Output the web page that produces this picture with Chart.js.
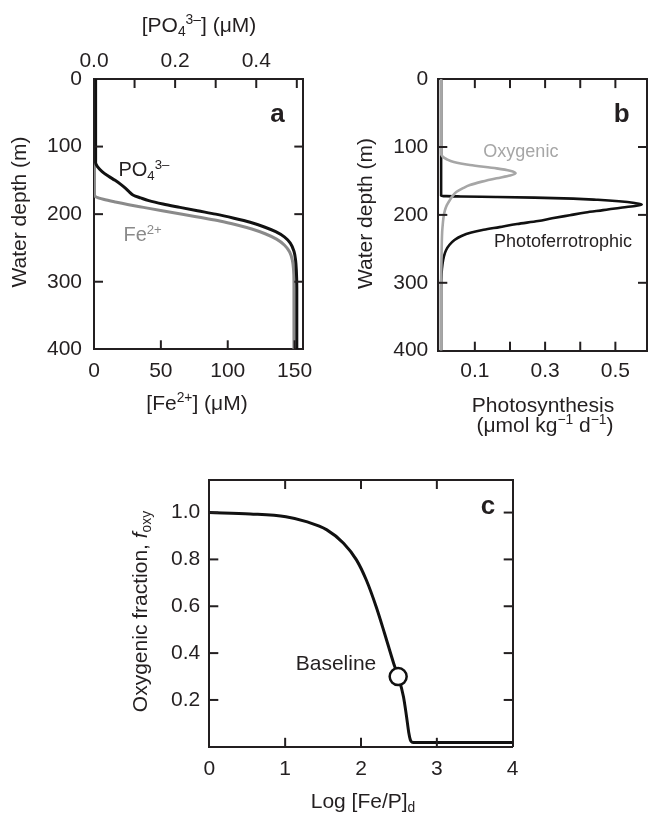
<!DOCTYPE html>
<html>
<head>
<meta charset="utf-8">
<script src="https://cdn.jsdelivr.net/npm/chart.js@4.4.1/dist/chart.umd.min.js"></script>
<style>
  body { margin: 0; background: #fff; }
  .panel { position: absolute; }
</style>
</head>
<body>
<div class="panel" style="left:0;top:0"><canvas id="chartA" width="330" height="420"></canvas></div>
<div class="panel" style="left:330px;top:0"><canvas id="chartB" width="318" height="445"></canvas></div>
<div class="panel" style="left:0;top:445px"><canvas id="chartC" width="648" height="372"></canvas></div>
<script>
// ---- panel a: concentration profiles ----
const po4Depth = [0, 124, 130, 137, 144, 150, 156, 162, 167, 172, 176, 180, 185, 190, 195, 200, 206, 212, 219, 226, 234, 243, 255, 268, 285, 310, 400];
const po4Conc = [0.004, 0.004, 0.009, 0.02, 0.036, 0.052, 0.066, 0.078, 0.087, 0.097, 0.115, 0.135, 0.17, 0.212, 0.255, 0.3, 0.345, 0.385, 0.42, 0.448, 0.47, 0.484, 0.493, 0.497, 0.499, 0.5, 0.5];
const feDepth = [0, 172, 175, 178, 182, 186, 190, 195, 200, 205, 210, 216, 222, 229, 237, 246, 256, 268, 282, 300, 400];
const feConc = [0.4, 0.4, 2, 7, 16, 26, 37, 51, 66, 80, 94, 107, 118, 128, 136.5, 142.5, 146.3, 148.3, 149.2, 149.5, 149.5];
const feTicks = [0, 50, 100, 150];
const po4Ticks = [0, 0.1, 0.2, 0.3, 0.4, 0.5];
const po4Labels = [0, 0.2, 0.4];
const depthTicks = [0, 100, 200, 300, 400];
const depthInner = [100, 200, 300];

// ---- panel b: photosynthesis profiles ----
const oxyDepth = [0, 110, 114, 118, 122, 126.5, 131.5, 135, 138.7, 142, 146, 151, 156, 161, 166, 172, 178, 186, 193, 203, 212, 225, 240, 266, 300, 400];
const oxyRate = [0.004, 0.004, 0.008, 0.02, 0.04, 0.086, 0.162, 0.2, 0.216, 0.2, 0.162, 0.12, 0.086, 0.065, 0.048, 0.037, 0.029, 0.02, 0.015, 0.011, 0.009, 0.007, 0.006, 0.005, 0.004, 0.004];
const pfDepth = [0, 172, 172.8, 173.6, 174.6, 176, 177.8, 180, 182.5, 184.5, 186.5, 189, 193, 196.5, 200.5, 205, 209, 213.5, 218, 222, 226, 231, 237, 244, 252, 261, 272, 288, 310, 400];
const pfRate = [0.004, 0.004, 0.06, 0.16, 0.27, 0.38, 0.45, 0.51, 0.555, 0.575, 0.56, 0.52, 0.465, 0.415, 0.37, 0.32, 0.28, 0.22, 0.17, 0.125, 0.09, 0.062, 0.042, 0.028, 0.018, 0.012, 0.008, 0.005, 0.004, 0.004];
const photoTicks = [0.1, 0.2, 0.3, 0.4, 0.5];
const photoLabels = [0.1, 0.3, 0.5];

// ---- panel c: oxygenic fraction ----
const logFeP = [0, 0.54, 1.01, 1.28, 1.55, 1.77, 1.94, 2.07, 2.2, 2.31, 2.43, 2.49, 2.56, 2.6, 2.63, 2.65, 2.67, 2.72, 3.0, 4.0];
const fOxy = [1.0, 0.994, 0.982, 0.961, 0.926, 0.869, 0.798, 0.712, 0.598, 0.485, 0.357, 0.3, 0.214, 0.13, 0.06, 0.03, 0.02, 0.018, 0.018, 0.018];
const baselineFeP = [2.49];
const baselineFOxy = [0.30];
const logTicks = [0, 1, 2, 3, 4];
const logInner = [1, 2, 3];
const foxyTicks = [0.2, 0.4, 0.6, 0.8, 1.0];

const FONT = "'Liberation Sans', Arial, Helvetica, sans-serif";
const INK = '#231f20';
const TICK_LEN = 9;

Chart.defaults.font.family = FONT;
Chart.defaults.font.size = 21;
Chart.defaults.color = INK;

const pts = (xs, ys) => xs.map((x, i) => ({ x, y: ys[i] }));

function axis(o) {
  return {
    type: 'linear',
    position: o.position,
    min: o.min,
    max: o.max,
    reverse: !!o.reverse,
    grid: { display: false, drawTicks: false },
    border: { display: true, color: INK, width: 2 },
    afterBuildTicks: sc => { sc.ticks = o.ticks.map(v => ({ value: v })); },
    afterFit: sc => { if (sc.isHorizontal()) sc.height = o.size; else sc.width = o.size; },
    ticks: {
      display: !!o.labels,
      padding: o.padding || 0,
      autoSkip: false,
      maxRotation: 0,
      callback: v => (o.labels && o.labels.some(l => Math.abs(l - v) < 1e-9)) ? v.toFixed(o.digits || 0) : ''
    }
  };
}

// text with sub/superscripts, centred on (px, py)
function drawRich(ctx, s) {
  const size = s.size || 21;
  const segs = s.parts.map(([t, kind, style]) => {
    const fs = (kind === 'sup' || kind === 'sub') ? size * 0.66 : size;
    const font = `${style || 'normal'} ${s.weight || 'normal'} ${fs}px ${FONT}`;
    ctx.font = font;
    const dy = kind === 'sup' ? -0.37 * size : kind === 'sub' ? 0.2 * size : 0;
    return { t, font, dy, w: ctx.measureText(t).width };
  });
  const total = segs.reduce((a, g) => a + g.w, 0);
  ctx.save();
  ctx.translate(s.px, s.py);
  if (s.rot) ctx.rotate(s.rot);
  ctx.fillStyle = s.color || INK;
  ctx.textAlign = 'left';
  ctx.textBaseline = 'alphabetic';
  let x = s.align === 'left' ? 0 : -total / 2;
  const base = 0.36 * size;
  segs.forEach(g => { ctx.font = g.font; ctx.fillText(g.t, x, base + g.dy); x += g.w; });
  ctx.restore();
}

function decor(labels) {
  return {
    id: 'decor',
    afterDraw(chart) {
      const ctx = chart.ctx, area = chart.chartArea;
      ctx.save();
      ctx.strokeStyle = INK;
      ctx.lineWidth = 2;
      Object.values(chart.scales).forEach(sc => {
        sc.ticks.forEach(t => {
          const p = sc.getPixelForValue(t.value);
          if (sc.isHorizontal()) {
            if (p < area.left + 3 || p > area.right - 3) return;
            const y0 = sc.position === 'top' ? area.top : area.bottom;
            const dir = sc.position === 'top' ? 1 : -1;
            ctx.beginPath(); ctx.moveTo(p, y0); ctx.lineTo(p, y0 + dir * TICK_LEN); ctx.stroke();
          } else {
            if (p < area.top + 3 || p > area.bottom - 3) return;
            const x0 = sc.position === 'left' ? area.left : area.right;
            const dir = sc.position === 'left' ? 1 : -1;
            ctx.beginPath(); ctx.moveTo(x0, p); ctx.lineTo(x0 + dir * TICK_LEN, p); ctx.stroke();
          }
        });
      });
      ctx.restore();
      labels.forEach(l => {
        const px = l.xs ? chart.scales[l.xs].getPixelForValue(l.x) : l.x;
        const py = l.ys ? chart.scales[l.ys].getPixelForValue(l.y) : l.y;
        drawRich(ctx, Object.assign({}, l, { px, py }));
      });
    }
  };
}

const common = {
  responsive: false,
  animation: false,
  events: [],
  layout: { padding: 0, autoPadding: false },
  plugins: { legend: { display: false }, tooltip: { enabled: false } },
  elements: { point: { radius: 0 } }
};

const UP = -Math.PI / 2;

// ---------- panel a ----------
new Chart(document.getElementById('chartA'), {
  type: 'line',
  data: {
    datasets: [{
      label: 'PO4',
      data: pts(po4Conc, po4Depth),
      xAxisID: 'x2', yAxisID: 'y',
      borderColor: '#111', borderWidth: 3,
      cubicInterpolationMode: 'monotone', pointRadius: 0
    }, {
      label: 'Fe2+',
      data: pts(feConc, feDepth),
      xAxisID: 'x', yAxisID: 'y',
      borderColor: '#8a8a8a', borderWidth: 3,
      cubicInterpolationMode: 'monotone', pointRadius: 0
    }]
  },
  options: Object.assign({}, common, {
    indexAxis: 'y',
    scales: {
      x: axis({ position: 'bottom', min: 0, max: 156.5, ticks: feTicks, labels: feTicks, size: 70.7, padding: 9 }),
      x2: axis({ position: 'top', min: 0, max: 0.516, ticks: po4Ticks, labels: po4Labels, digits: 1, size: 79, padding: 5 }),
      y: axis({ position: 'left', min: 0, max: 400, reverse: true, ticks: depthTicks, labels: depthTicks, size: 94, padding: 12 }),
      y2: axis({ position: 'right', min: 0, max: 400, reverse: true, ticks: depthInner, size: 26.7 })
    }
  }),
  plugins: [decor([
    { parts: [['[PO'], ['4', 'sub'], ['3–', 'sup'], ['] (μM)']], x: 199, y: 24 },
    { parts: [['[Fe'], ['2+', 'sup'], ['] (μM)']], x: 197, y: 402 },
    { parts: [['Water depth (m)']], x: 18.5, y: 212, rot: UP },
    { parts: [['a']], x: 137.2, y: 50.3, xs: 'x', ys: 'y', size: 26, weight: 'bold' },
    { parts: [['PO'], ['4', 'sub'], ['3–', 'sup']], x: 18.3, y: 133, xs: 'x', ys: 'y', size: 20, align: 'left' },
    { parts: [['Fe'], ['2+', 'sup']], x: 22, y: 229, xs: 'x', ys: 'y', size: 20, align: 'left', color: '#8a8a8a' }
  ])]
});

// ---------- panel b ----------
new Chart(document.getElementById('chartB'), {
  type: 'line',
  data: {
    datasets: [{
      label: 'Oxygenic',
      data: pts(oxyRate, oxyDepth),
      borderColor: '#a6a6a6', borderWidth: 2.6,
      cubicInterpolationMode: 'monotone', pointRadius: 0
    }, {
      label: 'Photoferrotrophic',
      data: pts(pfRate, pfDepth),
      borderColor: '#111', borderWidth: 2.6,
      cubicInterpolationMode: 'monotone', pointRadius: 0
    }]
  },
  options: Object.assign({}, common, {
    indexAxis: 'y',
    scales: {
      x: axis({ position: 'bottom', min: -0.004, max: 0.59, ticks: photoTicks, labels: photoLabels, digits: 1, size: 94.3, padding: 8 }),
      x2: axis({ position: 'top', min: -0.004, max: 0.59, ticks: photoTicks, size: 79.1 }),
      y: axis({ position: 'left', min: 0, max: 400, reverse: true, ticks: depthTicks, labels: depthTicks, size: 108.3, padding: 10 }),
      y2: axis({ position: 'right', min: 0, max: 400, reverse: true, ticks: depthInner, size: 1 })
    }
  }),
  plugins: [decor([
    { parts: [['Water depth (m)']], x: 34, y: 213.5, rot: UP },
    { parts: [['Photosynthesis']], x: 213, y: 404 },
    { parts: [['(μmol kg'], ['−1', 'sup'], [' d'], ['−1', 'sup'], [')']], x: 215, y: 424 },
    { parts: [['b']], x: 0.518, y: 49.9, xs: 'x', ys: 'y', size: 26, weight: 'bold' },
    { parts: [['Oxygenic']], x: 0.231, y: 105.9, xs: 'x', ys: 'y', size: 18, color: '#a6a6a6' },
    { parts: [['Photoferrotrophic']], x: 0.351, y: 237, xs: 'x', ys: 'y', size: 18 }
  ])]
});

// ---------- panel c ----------
new Chart(document.getElementById('chartC'), {
  type: 'line',
  data: {
    datasets: [{
      label: 'Baseline',
      data: pts(baselineFeP, baselineFOxy),
      showLine: false,
      pointRadius: 8.5,
      pointBackgroundColor: '#fff',
      pointBorderColor: '#111',
      pointBorderWidth: 2.5
    }, {
      label: 'f_oxy',
      data: pts(logFeP, fOxy),
      borderColor: '#111', borderWidth: 3,
      cubicInterpolationMode: 'monotone', pointRadius: 0
    }]
  },
  options: Object.assign({}, common, {
    scales: {
      x: axis({ position: 'bottom', min: 0, max: 4, ticks: logTicks, labels: logTicks, size: 70.2, padding: 10 }),
      x2: axis({ position: 'top', min: 0, max: 4, ticks: logInner, size: 35 }),
      y: axis({ position: 'left', min: 0, max: 1.139, ticks: foxyTicks, labels: foxyTicks, digits: 1, size: 209.3, padding: 9 }),
      y2: axis({ position: 'right', min: 0, max: 1.139, ticks: foxyTicks, size: 135.3 })
    }
  }),
  plugins: [decor([
    { parts: [['Oxygenic fraction, '], ['f', '', 'italic'], ['oxy', 'sub']], x: 139, y: 166.5, rot: UP },
    { parts: [['Log [Fe/P]'], ['d', 'sub']], x: 363, y: 355 },
    { parts: [['c']], x: 3.674, y: 1.032, xs: 'x', ys: 'y', size: 26, weight: 'bold' },
    { parts: [['Baseline']], x: 1.67, y: 0.362, xs: 'x', ys: 'y', size: 21 }
  ])]
});
</script>
</body>
</html>
